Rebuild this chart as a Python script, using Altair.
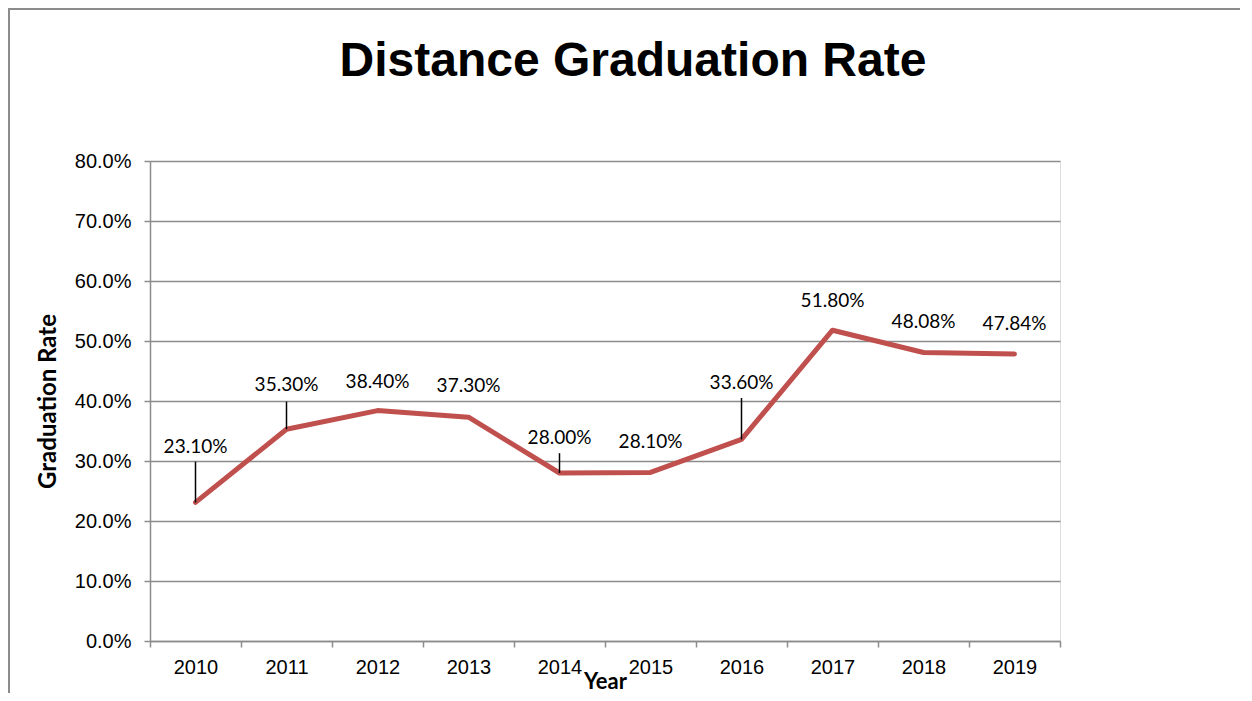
import altair as alt
import pandas as pd

# ---- data ----
years = ["2010", "2011", "2012", "2013", "2014", "2015", "2016", "2017", "2018", "2019"]
rates = [23.10, 35.30, 38.40, 37.30, 28.00, 28.10, 33.60, 51.80, 48.08, 47.84]
labels = ["23.10%", "35.30%", "38.40%", "37.30%", "28.00%", "28.10%", "33.60%", "51.80%", "48.08%", "47.84%"]

# ---- label placement (style, in percentage points above the point) ----
label_lift = [9.2, 7.4, 4.8, 5.2, 5.8, 5.1, 9.4, 4.9, 5.1, 5.0]
leader_lift = [6.8, 4.6, 0, 0, 3.3, 0, 6.9, 0, 0, 0]

df = pd.DataFrame({"Year": years, "Rate": [r / 100 for r in rates], "Label": labels})
df["LabelY"] = [(r + l) / 100 for r, l in zip(rates, label_lift)]
df["LeaderTop"] = [(r + l) / 100 for r, l in zip(rates, leader_lift)]
df["HasLeader"] = [l > 0 for l in leader_lift]

GRAY = "#8c8c8c"
base = alt.Chart(df)

x_enc = alt.X(
    "Year:O",
    scale=alt.Scale(type="band", paddingInner=0, paddingOuter=0),
    bandPosition=0.5,
    axis=alt.Axis(
        title="Year",
        tickBand="extent",
        labelAngle=0,
        labelFont="Liberation Sans",
        labelFontSize=20,
        labelColor="black",
        labelPadding=10,
        tickSize=6,
        tickColor=GRAY,
        tickWidth=1.5,
        domainColor=GRAY,
        domainWidth=1.5,
        grid=False,
        titleFont="Lato",
        titleFontWeight="bold",
        titleFontSize=22,
        titleColor="black",
        titleBaseline="middle",
        titleY=40,
    ),
)
y_scale = alt.Scale(domain=[0, 0.8])
y_axis = alt.Axis(
    title="Graduation Rate",
    format=".1%",
    values=[0, 0.1, 0.2, 0.3, 0.4, 0.5, 0.6, 0.7, 0.8],
    labelFont="Liberation Sans",
    labelFontSize=20,
    labelColor="black",
    labelPadding=13,
    tickSize=6,
    tickColor=GRAY,
    tickWidth=1.5,
    domainColor=GRAY,
    domainWidth=1.5,
    grid=True,
    gridColor=GRAY,
    gridWidth=1.5,
    titleFont="Lato",
    titleFontWeight="bold",
    titleFontSize=24,
    titleColor="black",
    titleBaseline="middle",
    titleX=-102,
    titleY=240,
)

line = base.mark_line(color="#C0504D", strokeWidth=5, strokeJoin="round", strokeCap="round").encode(
    x=x_enc, y=alt.Y("Rate:Q", scale=y_scale, axis=y_axis)
)

leaders = base.transform_filter("datum.HasLeader").mark_rule(color="black", strokeWidth=1.5).encode(
    x=alt.X("Year:O", bandPosition=0.5),
    y=alt.Y("Rate:Q"),
    y2="LeaderTop:Q",
)

texts = base.mark_text(font="Lato", fontSize=19, color="black", baseline="middle", align="center").encode(
    x=alt.X("Year:O", bandPosition=0.5),
    y=alt.Y("LabelY:Q"),
    text="Label:N",
)

frame = alt.Chart(pd.DataFrame({"k": [0]})).mark_rect(fill=None, stroke=GRAY, strokeWidth=2).encode(
    x=alt.value(-141), x2=alt.value(1150), y=alt.value(-152), y2=alt.value(600)
)

chart = (
    alt.layer(frame, line, leaders, texts)
    .properties(
        width=910,
        height=480,
        title=alt.TitleParams(
            "Distance Graduation Rate",
            font="Liberation Sans",
            fontSize=48,
            fontWeight="bold",
            color="black",
            anchor="middle",
            dx=28,
            offset=-78,
        ),
        autosize=alt.AutoSizeParams(type="none"),
        padding={"left": 142, "top": 153, "right": 180, "bottom": 52},
    )
    .configure_view(stroke=None)
    .configure(background="white")
)

chart.save("out.html", embed_options={"renderer": "svg", "actions": False})
